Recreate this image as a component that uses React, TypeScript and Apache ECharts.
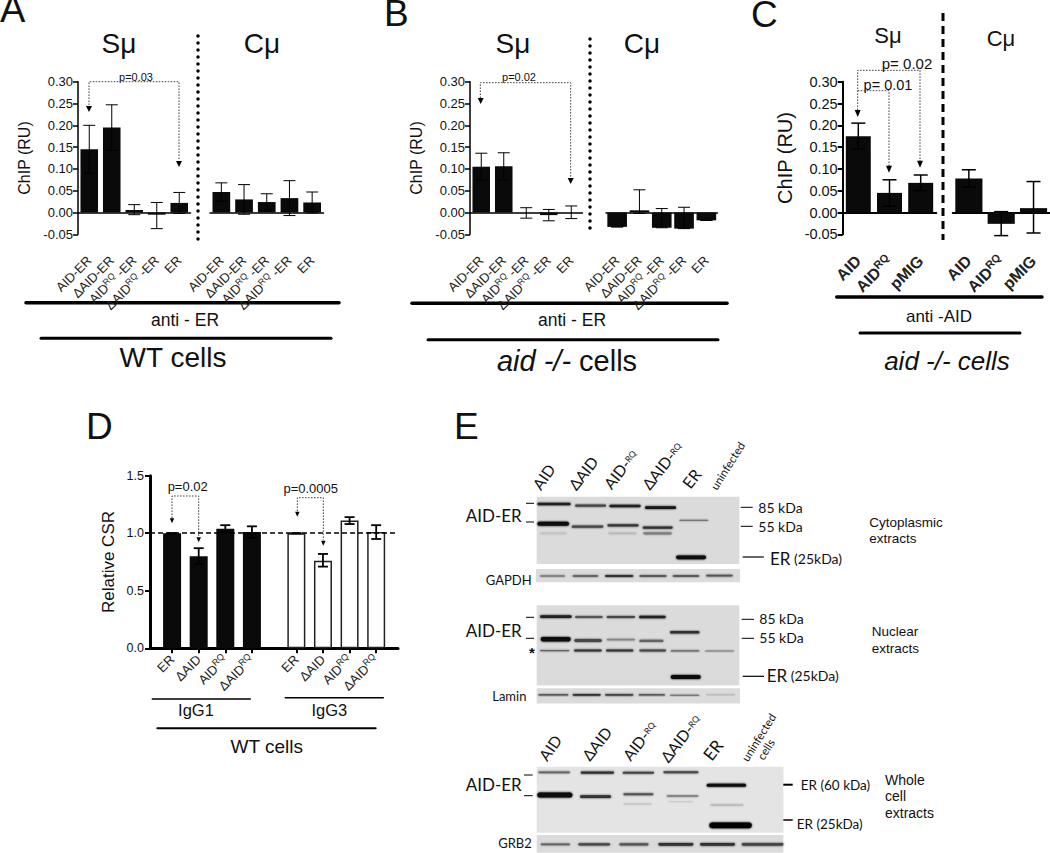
import React, { useEffect, useRef } from "react";
import * as echarts from "echarts";

// ---------- data: panels A-C ----------
const erCategories = ["AID-ER", "ΔAID-ER", "AIDRQ -ER", "ΔAIDRQ -ER", "ER"];
const aidCategories = ["AID", "AIDRQ", "pMIG"];
const chipTicksMin = -0.05;
const chipTicksMax = 0.3;

const aSuValues = [0.145, 0.195, 0.006, -0.005, 0.022];
const aSuHigh = [0.2, 0.247, 0.018, 0.023, 0.046];
const aSuLow = [0.09, 0.143, -0.005, -0.037, -0.002];
const aCuValues = [0.047, 0.03, 0.024, 0.033, 0.023];
const aCuHigh = [0.068, 0.064, 0.043, 0.073, 0.047];
const aCuLow = [0.026, -0.004, 0.005, -0.007, -0.001];

const bSuValues = [0.105, 0.106, 0.0, -0.006, 0.0];
const bSuHigh = [0.136, 0.137, 0.011, 0.007, 0.015];
const bSuLow = [0.074, 0.075, -0.013, -0.019, -0.014];
const bCuValues = [-0.033, 0.005, -0.035, -0.037, -0.018];
const bCuHigh = [-0.033, 0.052, 0.009, 0.012, -0.018];
const bCuLow = [-0.033, -0.002, -0.035, -0.037, -0.018];

const cSuValues = [0.175, 0.045, 0.068];
const cSuHigh = [0.205, 0.075, 0.086];
const cSuLow = [0.145, 0.015, 0.05];
const cCuValues = [0.078, -0.026, 0.01];
const cCuHigh = [0.098, 0.002, 0.071];
const cCuLow = [0.058, -0.053, -0.047];

// ---------- data: panel D ----------
const dCategories = ["ER", "ΔAID", "AIDRQ", "ΔAIDRQ"];
const dIgG1Values = [1.0, 0.8, 1.04, 1.01];
const dIgG1High = [1.0, 0.87, 1.07, 1.06];
const dIgG1Low = [1.0, 0.73, 1.01, 0.96];
const dIgG3Values = [1.0, 0.76, 1.11, 1.01];
const dIgG3High = [1.0, 0.82, 1.14, 1.07];
const dIgG3Low = [1.0, 0.71, 1.08, 0.95];

// ---------- data: panel E, blot bands [from, to, row, thickness, grey] ----------
const cytoBands = [
  [2, 102, 22, 8, 35], [115, 208, 27, 7, 70], [218, 312, 28, 8, 35], [325, 418, 33, 8, 20],
  [2, 97, 81, 12, 15], [105, 200, 90, 7, 70], [212, 306, 86, 7, 55], [318, 408, 93, 7, 50],
  [320, 405, 110, 7, 125], [215, 300, 110, 5, 185], [10, 90, 110, 5, 195],
  [428, 515, 71, 4, 120], [418, 508, 182, 11, 15],
];
const gapdhBands = [
  [12, 87, 21, 4, 120], [110, 187, 21, 5, 85], [207, 292, 21, 6, 50],
  [310, 392, 21, 5, 70], [410, 490, 21, 5, 70], [510, 590, 20, 5, 85],
];
const nuclearBands = [
  [10, 105, 34, 8, 35], [115, 198, 35, 6, 85], [210, 295, 35, 6, 70], [307, 387, 35, 8, 35],
  [12, 102, 102, 13, 15], [113, 195, 106, 9, 70], [210, 295, 103, 5, 135], [308, 380, 107, 7, 100],
  [400, 488, 81, 7, 50],
  [10, 98, 136, 4, 100], [112, 195, 136, 6, 50], [208, 290, 136, 6, 50], [308, 388, 136, 6, 70],
  [402, 488, 137, 4, 100], [505, 592, 137, 3, 120],
  [402, 492, 215, 12, 15],
];
const laminBands = [
  [5, 95, 20, 4, 70], [108, 192, 20, 5, 50], [205, 290, 20, 5, 70],
  [306, 385, 20, 4, 70], [400, 488, 21, 3, 100], [508, 595, 20, 2, 170],
];
const wholeBands = [
  [5, 100, 17, 5, 100], [132, 232, 18, 7, 50], [258, 352, 18, 6, 70], [380, 485, 17, 6, 70],
  [2, 107, 85, 15, 10], [130, 223, 90, 8, 50], [260, 350, 83, 6, 85], [390, 485, 88, 4, 120],
  [510, 628, 56, 9, 10], [518, 645, 176, 17, 0],
  [520, 620, 115, 5, 185], [260, 345, 112, 5, 200], [395, 470, 105, 4, 205],
];
const grb2Bands = [
  [12, 100, 28, 5, 100], [125, 220, 28, 7, 70], [248, 335, 28, 7, 85],
  [365, 470, 28, 8, 50], [490, 595, 28, 8, 50], [615, 740, 28, 8, 70],
];

// ---------- helpers ----------
const SANS = "Liberation Sans";
const LATO = "Lato";
const deg = (d: number) => (d * Math.PI) / 180;

function text(x: number, y: number, t: string, size: number, extra: any = {}) {
  const { align, baseline, rotation, weight, fill, family, rich, fontStyle } = extra;
  return {
    type: "text",
    x,
    y,
    rotation: rotation ? deg(rotation) : 0,
    silent: true,
    style: {
      text: t,
      fontSize: size,
      fontFamily: family || SANS,
      fontWeight: weight || "normal",
      fontStyle: fontStyle || "normal",
      fill: fill || "#111",
      align: align || "center",
      verticalAlign: baseline || "middle",
      rich,
    },
  };
}
function line(x1: number, y1: number, x2: number, y2: number, w: number, extra: any = {}) {
  return {
    type: "line",
    silent: true,
    shape: { x1, y1, x2, y2 },
    style: { stroke: extra.stroke || "#000", lineWidth: w, lineCap: extra.cap || "round", lineDash: extra.dash },
  };
}
function arrow(x: number, tip: number, w = 6, h = 6) {
  return {
    type: "polygon",
    silent: true,
    shape: { points: [[x - w / 2, tip - h], [x + w / 2, tip - h], [x, tip]] },
    style: { fill: "#000" },
  };
}
function dotted(points: number[][], w = 1) {
  return {
    type: "polyline",
    silent: true,
    shape: { points },
    style: { stroke: "#444", lineWidth: w, lineDash: [1.6, 1.4], fill: "none" },
  };
}

const grids: any[] = [];
const xAxes: any[] = [];
const yAxes: any[] = [];
const series: any[] = [];

function errorSeries(g: number, xs: number[], low: number[], high: number[], cap: number, width: number) {
  series.push({
    type: "custom",
    xAxisIndex: g,
    yAxisIndex: g,
    z: 5,
    silent: true,
    encode: { x: 0, y: [1, 2] },
    data: low.map((l, i) => [xs[i], l, high[i]]),
    renderItem: (_: any, api: any) => {
      const top = api.coord([api.value(0), api.value(2)]);
      const bot = api.coord([api.value(0), api.value(1)]);
      const st = { stroke: "#000", lineWidth: width };
      const seg = (x1: number, y1: number, x2: number, y2: number) => ({
        type: "line",
        shape: { x1, y1, x2, y2 },
        style: st,
      });
      return {
        type: "group",
        children: [
          seg(top[0], top[1], bot[0], bot[1]),
          seg(top[0] - cap / 2, top[1], top[0] + cap / 2, top[1]),
          seg(bot[0] - cap / 2, bot[1], bot[0] + cap / 2, bot[1]),
        ],
      };
    },
  });
}

function chipPlot(o: {
  left: number; width: number; cats: string[]; values: number[]; low: number[]; high: number[];
  showY: boolean; barWidth: string; cap: number; errW: number; axisW: number; labelSize: number;
  tickSize?: number; nameSize?: number; nameGap?: number; bold?: boolean; margin: number;
}) {
  const g = grids.length;
  grids.push({ left: o.left, width: o.width, top: 81.7, height: 152.6 });
  const base = {
    fontFamily: SANS,
    fontSize: o.labelSize,
    color: "#222",
    fontWeight: o.bold ? "bold" : "normal",
  };
  xAxes.push({
    type: "category",
    gridIndex: g,
    data: o.cats,
    axisLine: { onZero: true, lineStyle: { color: "#000", width: o.axisW } },
    axisTick: { alignWithLabel: true, length: 4, lineStyle: { color: "#000", width: o.axisW } },
    axisLabel: {
      interval: 0,
      rotate: 45,
      margin: o.margin,
      ...base,
      formatter: (v: string) => {
        const i = v.indexOf("RQ");
        return i < 0 ? `{a|${v}}` : `{a|${v.slice(0, i)}}{s|RQ}` + (v.length > i + 2 ? `{a|${v.slice(i + 2)}}` : "");
      },
      rich: {
        a: { ...base },
        s: { fontFamily: SANS, fontSize: o.labelSize * 0.68, color: "#222", padding: [0, 0, o.labelSize * 0.5, 0] },
      },
    },
  });
  yAxes.push({
    type: "value",
    gridIndex: g,
    show: o.showY,
    min: chipTicksMin,
    max: chipTicksMax,
    interval: 0.05,
    name: o.showY ? "ChIP (RU)" : "",
    nameLocation: "middle",
    nameGap: o.nameGap,
    nameTextStyle: { fontFamily: SANS, fontSize: o.nameSize, color: "#111" },
    splitLine: { show: false },
    axisLine: { show: true, onZero: false, lineStyle: { color: "#000", width: o.axisW } },
    axisTick: { show: true, length: 5, lineStyle: { color: "#000", width: o.axisW } },
    axisLabel: {
      margin: 5,
      fontFamily: SANS,
      fontSize: o.tickSize,
      color: "#111",
      formatter: (v: number) => v.toFixed(2),
    },
  });
  series.push({
    type: "bar",
    xAxisIndex: g,
    yAxisIndex: g,
    barWidth: o.barWidth,
    silent: true,
    itemStyle: { color: "#0a0a0a" },
    data: o.values,
  });
  errorSeries(g, o.cats.map((_, i) => i), o.low, o.high, o.cap, o.errW);
}

function blot(left: number, top: number, width: number, height: number, uw: number, uh: number, bg: string, bands: number[][]) {
  const g = grids.length;
  grids.push({ left, top, width, height, show: true, backgroundColor: bg, borderWidth: 0 });
  xAxes.push({ type: "value", gridIndex: g, show: false, min: 0, max: uw });
  yAxes.push({ type: "value", gridIndex: g, show: false, min: 0, max: uh, inverse: true });
  series.push({
    type: "custom",
    xAxisIndex: g,
    yAxisIndex: g,
    silent: true,
    encode: { x: [0, 1], y: 2 },
    data: bands,
    renderItem: (_: any, api: any) => {
      const a = api.coord([api.value(0), api.value(2)]);
      const b = api.coord([api.value(1), api.value(2)]);
      const h = Math.abs(api.size([0, api.value(3)])[1]);
      const c = api.value(4);
      const col = `rgb(${c},${c},${c})`;
      return {
        type: "rect",
        shape: { x: a[0], y: a[1] - h / 2, width: b[0] - a[0], height: h, r: h / 2 },
        style: { fill: col, shadowBlur: 2, shadowColor: col },
      };
    },
  });
}

// ---------- chart plots ----------
chipPlot({ left: 78, width: 112.5, cats: erCategories, values: aSuValues, low: aSuLow, high: aSuHigh, showY: true, barWidth: "78%", cap: 12, errW: 1, axisW: 1.5, labelSize: 13, tickSize: 13, nameSize: 16, nameGap: 46, margin: 24 });
chipPlot({ left: 210, width: 113.5, cats: erCategories, values: aCuValues, low: aCuLow, high: aCuHigh, showY: false, barWidth: "78%", cap: 12, errW: 1, axisW: 1.5, labelSize: 13, margin: 24 });
chipPlot({ left: 470, width: 112.5, cats: erCategories, values: bSuValues, low: bSuLow, high: bSuHigh, showY: true, barWidth: "78%", cap: 12, errW: 1, axisW: 1.5, labelSize: 13, tickSize: 13, nameSize: 16, nameGap: 46, margin: 24 });
chipPlot({ left: 606, width: 111.5, cats: erCategories, values: bCuValues, low: bCuLow, high: bCuHigh, showY: false, barWidth: "88%", cap: 12, errW: 1, axisW: 1.5, labelSize: 13, margin: 24 });
chipPlot({ left: 842.7, width: 93.6, cats: aidCategories, values: cSuValues, low: cSuLow, high: cSuHigh, showY: true, barWidth: "80%", cap: 14, errW: 1.5, axisW: 2, labelSize: 16, tickSize: 14.5, nameSize: 20, nameGap: 48, bold: true, margin: 24 });
chipPlot({ left: 952.7, width: 97, cats: aidCategories, values: cCuValues, low: cCuLow, high: cCuHigh, showY: false, barWidth: "84%", cap: 14, errW: 1.5, axisW: 2, labelSize: 16, bold: true, margin: 24 });

// panel D: one value-scaled x axis, so the two groups can have their own gap
const dGroupStarts = [0.83, 5.5];
const dX = (group: number, i: number) => dGroupStarts[group] + i;
const dXs = [0, 1, 2, 3].map((i) => dX(0, i)).concat([0, 1, 2, 3].map((i) => dX(1, i)));
const dLabelFor = (v: number) => {
  const idx = dXs.findIndex((x) => Math.abs(x - v) < 0.01);
  return idx < 0 ? "" : dCategories[idx % 4];
};
{
  const g = grids.length;
  grids.push({ left: 150, width: 248, top: 475.7, height: 172.6 });
  const lab = { fontFamily: SANS, fontSize: 13, color: "#222" };
  xAxes.push({
    type: "value",
    gridIndex: g,
    min: 0,
    max: 9.32,
    splitLine: { show: false },
    axisLine: { lineStyle: { color: "#000", width: 3 } },
    axisTick: { customValues: dXs, length: 5, lineStyle: { color: "#000", width: 2 } },
    axisLabel: {
      customValues: dXs,
      rotate: 45,
      margin: 9,
      ...lab,
      formatter: (v: number) => {
        const s = dLabelFor(v);
        const i = s.indexOf("RQ");
        return i < 0 ? `{a|${s}}` : `{a|${s.slice(0, i)}}{s|RQ}`;
      },
      rich: {
        a: { ...lab },
        s: { fontFamily: SANS, fontSize: 9, color: "#222", padding: [0, 0, 7, 0] },
      },
    },
  });
  yAxes.push({
    type: "value",
    gridIndex: g,
    min: 0,
    max: 1.5,
    interval: 0.5,
    name: "Relative CSR",
    nameLocation: "middle",
    nameGap: 33,
    nameTextStyle: { fontFamily: SANS, fontSize: 17, color: "#111" },
    splitLine: { show: false },
    axisLine: { show: true, lineStyle: { color: "#000", width: 3 } },
    axisTick: { show: true, length: 5, lineStyle: { color: "#000", width: 2 } },
    axisLabel: { margin: 6, fontFamily: SANS, fontSize: 12.5, color: "#111", formatter: (v: number) => v.toFixed(1) },
  });
  series.push({
    type: "bar",
    xAxisIndex: g,
    yAxisIndex: g,
    barWidth: 18,
    silent: true,
    data: [
      ...dIgG1Values.map((v, i) => ({ value: [dX(0, i), v], itemStyle: { color: "#0a0a0a" } })),
      ...dIgG3Values.map((v, i) => ({
        value: [dX(1, i), v],
        itemStyle: { color: "#fff", borderColor: "#222", borderWidth: 1.5 },
      })),
    ],
    markLine: {
      silent: true,
      symbol: "none",
      label: { show: false },
      lineStyle: { color: "#000", type: [5, 3], width: 1.5 },
      data: [{ yAxis: 1.0 }],
    },
  });
  errorSeries(g, dXs, [...dIgG1Low, ...dIgG3Low], [...dIgG1High, ...dIgG3High], 10, 1.8);
}

// panel E blots
const BG = "#dbdbdb";
blot(536.7, 496.7, 202.7, 67.3, 608, 202, BG, cytoBands);
blot(536, 569, 204, 13.3, 612, 40, BG, gapdhBands);
blot(536.7, 605.3, 202.7, 80.3, 608, 241, BG, nuclearBands);
blot(536.7, 688.3, 203.3, 15.3, 610, 46, BG, laminBands);
blot(536.7, 766.7, 246.7, 66, 740, 198, "#e4e4e4", wholeBands);
blot(536.7, 835, 246.7, 17.7, 740, 53, BG, grb2Bands);

// ---------- annotations ----------
const smallRich = (size: number, fam: string, fill = "#111") => ({
  n: { fontSize: size, fontFamily: fam, fill },
  s: { fontSize: size * 0.55, fontFamily: fam, fill },
});
const italicRich = (size: number) => ({
  i: { fontSize: size, fontFamily: SANS, fontStyle: "italic", fill: "#111" },
  n: { fontSize: size, fontFamily: SANS, fill: "#111" },
});
const laneRich = smallRich(15.5, LATO);
const graphics: any[] = [
  // panel letters
  text(0, 28, "A", 38, { align: "left", baseline: "bottom" }),
  text(384, 32, "B", 37, { align: "left", baseline: "bottom" }),
  text(751, 33, "C", 37, { align: "left", baseline: "bottom" }),
  text(86, 445, "D", 37, { align: "left", baseline: "bottom" }),
  text(454, 445, "E", 37, { align: "left", baseline: "bottom" }),
  // panel A
  text(119, 43, "Sμ", 28),
  text(262, 43, "Cμ", 28),
  line(198, 36, 198, 241, 3.5, { dash: [0, 7] }),
  text(136, 77, "p=0.03", 11),
  dotted([[89, 105], [89, 81.7], [179, 81.7], [179, 160]]),
  arrow(89, 112),
  arrow(179, 167),
  line(26, 302.7, 339, 302.7, 3.5),
  text(185, 319.5, "anti - ER", 17.5),
  line(41, 338.3, 331, 338.3, 3),
  text(173, 357.5, "WT cells", 28),
  // panel B
  text(513, 43, "Sμ", 28),
  text(642, 43, "Cμ", 28),
  line(590, 39, 590, 231, 3.5, { dash: [0, 7] }),
  text(519, 77, "p=0.02", 11),
  dotted([[480.3, 98], [480.3, 82.7], [570.7, 82.7], [570.7, 178]]),
  arrow(480.7, 104),
  arrow(570.7, 184),
  line(412, 303.3, 727, 303.3, 3.5),
  text(572, 320, "anti - ER", 17.5),
  line(428, 339.7, 718, 339.7, 3),
  text(567, 361, "{i|aid -/-}{n| cells}", 29, { rich: italicRich(29) }),
  // panel C
  text(888, 35, "Sμ", 22),
  text(1001, 38, "Cμ", 22),
  line(943, 13, 943, 240, 3, { dash: [8, 5], cap: "butt" }),
  text(907, 63, "p= 0.02", 15),
  text(888, 84.5, "p= 0.01", 14.5),
  dotted([[857.7, 110], [857.7, 70.3], [920, 70.3], [920, 161]]),
  dotted([[857.7, 90.7], [889, 90.7], [889, 166]]),
  arrow(857.7, 117, 6, 7),
  arrow(889, 172.7, 6, 7),
  arrow(920, 167.7, 6, 7),
  line(836.7, 297, 1042, 297, 3.5),
  text(939, 316, "anti -AID", 17),
  line(860, 333, 1020, 333, 3),
  text(947, 361, "aid -/- cells", 26, { fontStyle: "italic" }),
  // panel D
  text(187.7, 486, "p=0.02", 13),
  text(310.7, 488.7, "p=0.0005", 13),
  dotted([[172, 518], [172, 496], [198.7, 496], [198.7, 537]]),
  dotted([[297.3, 511], [297.3, 497.7], [323.3, 497.7], [323.3, 540]]),
  arrow(172, 523.3, 4.5, 5),
  arrow(198.7, 542.3, 4.5, 5),
  arrow(297.3, 516.7, 4.5, 5),
  arrow(323.3, 545.7, 4.5, 5),
  line(152.3, 699, 250.3, 699, 1.5),
  line(285.3, 697.7, 383.3, 697.7, 1.5),
  text(196, 710, "IgG1", 16.5),
  text(329.3, 710, "IgG3", 16.5),
  line(157.3, 728.3, 375.7, 728.3, 2),
  text(266.7, 746, "WT cells", 19),
  // panel E, cytoplasmic
  text(542.7, 492.3, "{n|AID}", 15.5, { align: "left", rotation: 55, family: LATO, baseline: "bottom", rich: laneRich }),
  text(578, 492.7, "{n|ΔAID}", 15.5, { align: "left", rotation: 52, family: LATO, baseline: "bottom", rich: laneRich }),
  text(613.3, 491.7, "{n|AID-}{s|RQ}", 15.5, { align: "left", rotation: 52, family: LATO, baseline: "bottom", rich: laneRich }),
  text(651.7, 492.3, "{n|ΔAID-}{s|RQ}", 15.5, { align: "left", rotation: 52, family: LATO, baseline: "bottom", rich: laneRich }),
  text(691.7, 491, "ER", 16, { align: "left", rotation: 52, family: LATO, baseline: "bottom" }),
  text(718.3, 491.7, "uninfected", 11.5, { align: "left", rotation: 58, family: LATO, baseline: "bottom" }),
  text(465.7, 515, "AID-ER", 17, { align: "left", family: LATO }),
  line(526, 503.3, 534, 503.3, 1, { cap: "butt" }),
  line(526, 522, 534, 522, 1, { cap: "butt" }),
  line(740.7, 507.3, 752.7, 507.3, 1, { cap: "butt" }),
  text(758.3, 507, "85 kDa", 14, { align: "left", family: LATO }),
  line(740.7, 526.3, 752.7, 526.3, 1, { cap: "butt" }),
  text(758.3, 526, "55 kDa", 14, { align: "left", family: LATO }),
  line(742.7, 557, 764, 557, 1.2, { cap: "butt" }),
  text(770, 558, "{a|ER} {b|(25kDa)}", 14, {
    align: "left",
    family: LATO,
    rich: { a: { fontSize: 17, fontFamily: LATO, fill: "#111" }, b: { fontSize: 14, fontFamily: LATO, fill: "#111" } },
  }),
  text(869.3, 522, "Cytoplasmic", 13.5, { align: "left" }),
  text(869.3, 538.3, "extracts", 13.5, { align: "left" }),
  text(508.7, 580, "GAPDH", 13, { family: LATO }),
  // nuclear
  text(465.7, 630, "AID-ER", 17, { align: "left", family: LATO }),
  line(526, 617.3, 534, 617.3, 1, { cap: "butt" }),
  line(526, 638.3, 534, 638.3, 1, { cap: "butt" }),
  text(532, 652, "*", 15, { weight: "bold" }),
  line(741.7, 619.3, 754, 619.3, 1, { cap: "butt" }),
  text(759.3, 618.3, "85 kDa", 14, { align: "left", family: LATO }),
  line(741.7, 638.3, 754, 638.3, 1, { cap: "butt" }),
  text(759.3, 637, "55 kDa", 14, { align: "left", family: LATO }),
  line(742.7, 676.3, 764, 676.3, 1.2, { cap: "butt" }),
  text(766.7, 675, "{a|ER} {b|(25kDa)}", 14, {
    align: "left",
    family: LATO,
    rich: { a: { fontSize: 17, fontFamily: LATO, fill: "#111" }, b: { fontSize: 14, fontFamily: LATO, fill: "#111" } },
  }),
  text(871.7, 631.7, "Nuclear", 13.5, { align: "left" }),
  text(871.7, 648, "extracts", 13.5, { align: "left" }),
  text(509.3, 695.7, "Lamin", 13, { family: LATO }),
  // whole cell
  text(549, 763.3, "{n|AID}", 15.5, { align: "left", rotation: 55, family: LATO, baseline: "bottom", rich: laneRich }),
  text(591.7, 763.3, "{n|ΔAID}", 15.5, { align: "left", rotation: 52, family: LATO, baseline: "bottom", rich: laneRich }),
  text(632.3, 763.3, "{n|AID-}{s|RQ}", 15.5, { align: "left", rotation: 52, family: LATO, baseline: "bottom", rich: laneRich }),
  text(670, 765, "{n|ΔAID-}{s|RQ}", 15.5, { align: "left", rotation: 52, family: LATO, baseline: "bottom", rich: laneRich }),
  text(713.3, 763.3, "ER", 17, { align: "left", rotation: 52, family: LATO, baseline: "bottom" }),
  text(749.3, 763.3, "uninfected", 11.5, { align: "left", rotation: 58, family: LATO, baseline: "bottom" }),
  text(765, 761.7, "cells", 11.5, { align: "left", rotation: 58, family: LATO, baseline: "bottom" }),
  text(465.7, 784.3, "AID-ER", 17, { align: "left", family: LATO }),
  line(524, 775, 532.7, 775, 1, { cap: "butt" }),
  line(524, 795.7, 532.7, 795.7, 1, { cap: "butt" }),
  line(783.3, 784.7, 792.7, 784.7, 2, { cap: "butt" }),
  text(800.7, 785.3, "ER (60 kDa)", 13.5, { align: "left", family: LATO }),
  line(783.3, 820, 792.7, 820, 1.5, { cap: "butt" }),
  text(796.7, 824.3, "ER (25kDa)", 13.5, { align: "left", family: LATO }),
  text(885, 780, "Whole", 14, { align: "left" }),
  text(885, 796, "cell", 14, { align: "left" }),
  text(885, 812.7, "extracts", 14, { align: "left" }),
  text(515, 843.3, "GRB2", 13, { family: LATO }),
];

export default function App() {
  const ref = useRef<HTMLDivElement>(null);
  useEffect(() => {
    document.body.style.margin = "0";
    const chart = echarts.init(ref.current!, null, { renderer: "svg" });
    chart.setOption({
      animation: false,
      backgroundColor: "#fff",
      tooltip: { show: false },
      grid: grids,
      xAxis: xAxes,
      yAxis: yAxes,
      series,
      graphic: graphics,
    });
    return () => chart.dispose();
  }, []);
  return <div ref={ref} style={{ width: 1050, height: 853 }} />;
}
